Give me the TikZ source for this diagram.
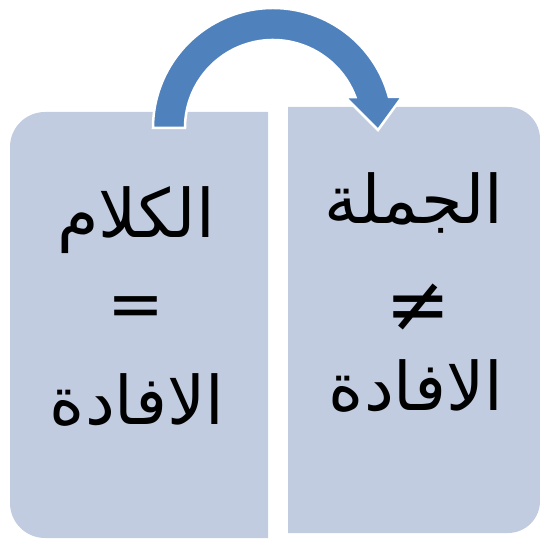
\documentclass[tikz,border=0pt]{standalone}
\usepackage{fontspec}
\usetikzlibrary{calc}
\newfontfamily\arabicfont[Script=Arabic]{DejaVu Sans}
\newfontfamily\symfont{DejaVu Sans}
\TeXXeTstate=1
\begin{document}
\begin{tikzpicture}[x=1pt,y=1pt,
  panel/.style={fill=panelblue, draw=none},
  artext/.style={font=\arabicfont\fontsize{67}{72}\selectfont, text=black, inner sep=0pt},
  symtext/.style={font=\symfont\fontsize{68}{72}\selectfont, text=black, inner sep=0pt},
  arrowband/.style={fill=arrowblue, draw=white, line width=2.5pt, line join=miter}]
\definecolor{panelblue}{RGB}{193,204,224}
\definecolor{arrowblue}{RGB}{79,129,189}
\useasboundingbox (0,0) rectangle (540,538);
% left panel
\path[panel] (268,0) -- (268,426) -- (10+35,426) arc[start angle=90,end angle=180,radius=35]
  -- (10,35) arc[start angle=180,end angle=270,radius=35] -- cycle;
% right panel
\path[panel] (288,5) -- (288,431) -- (540-32,431) arc[start angle=90,end angle=0,radius=32]
  -- (540,37) arc[start angle=0,end angle=-90,radius=32] -- cycle;
% arrow
\coordinate (c) at (273,410);
\coordinate (tip) at (378,408);
\path[arrowband] (153,410) arc[start angle=180,end angle=15,radius=120]
  -- (402,441) -- (tip) -- (345,441)
  -- ($(c)+(20.6:88)$) arc[start angle=20.6,end angle=180,radius=88] -- cycle;
% texts
\node[artext] (l1) at (136,318) {\beginR الكلام\endR};
\node[symtext] (l2) at (136,226) {=};
\node[artext] (l3) at (137,138) {\beginR الافادة\endR};
\node[artext] (r1) at (414,335) {\beginR الجملة\endR};
\node[symtext, scale=1.15] (r2) at (418,230) {≠};
\node[artext] (r3) at (416,152) {\beginR الافادة\endR};
\end{tikzpicture}
\end{document}
